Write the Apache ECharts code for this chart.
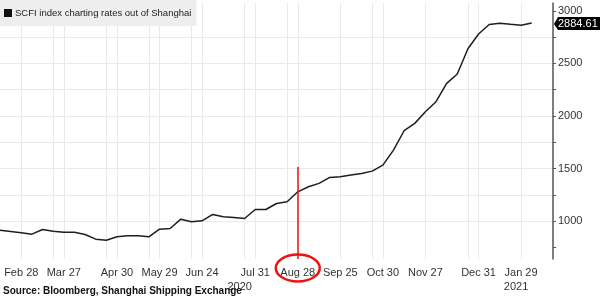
<!DOCTYPE html>
<html>
<head>
<meta charset="utf-8">
<script src="https://cdn.jsdelivr.net/npm/echarts@6/dist/echarts.min.js"></script>
<style>html,body{margin:0;padding:0;background:#fff}#main{width:600px;height:299px}</style>
</head>
<body>
<div id="main"></div>
<script>
// Weekly SCFI publication dates (Feb 2020 - Feb 2021)
const dates = ['Feb 14','Feb 21','Feb 28','Mar 6','Mar 13','Mar 20','Mar 27','Apr 3','Apr 10','Apr 17','Apr 24','Apr 30','May 8','May 15','May 22','May 29','Jun 5','Jun 12','Jun 19','Jun 24','Jul 3','Jul 10','Jul 17','Jul 24','Jul 31','Aug 7','Aug 14','Aug 21','Aug 28','Sep 4','Sep 11','Sep 18','Sep 25','Oct 9','Oct 16','Oct 23','Oct 30','Nov 6','Nov 13','Nov 20','Nov 27','Dec 4','Dec 11','Dec 18','Dec 24','Dec 31','Jan 8','Jan 15','Jan 22','Jan 29','Feb 5'];
const values = [914,902,889,876,921,905,895,895,873,829,819,851,860,860,851,924,930,1019,994,1003,1064,1041,1035,1025,1111,1111,1168,1184,1279,1327,1359,1416,1422,1438,1454,1476,1533,1676,1860,1930,2041,2136,2310,2400,2640,2780,2870,2883,2873,2864,2884.61];
const seriesName = 'SCFI index charting rates out of Shanghai';
const xLabelDates = ['Feb 28','Mar 27','Apr 30','May 29','Jun 24','Jul 31','Aug 28','Sep 25','Oct 30','Nov 27','Dec 31','Jan 29'];
const xGridDates = ['Feb 28','Mar 20','Mar 27','Apr 24','Apr 30','May 22','May 29','Jun 19','Jun 24','Jul 24','Jul 31','Aug 21','Aug 28','Sep 25','Oct 23','Oct 30','Nov 27','Dec 24','Dec 31','Jan 29'];
const yearLabels = {'Jul 31':'2020','Jan 29':'2021'};
const yTickLabels = [1000,1500,2000,2500,3000];
const yMinorTicks = [750,1000,1250,1500,1750,2000,2250,2500,2750,3000];
const markerDate = 'Aug 28';
const markerTop = 1515;
const sourceText = 'Source: Bloomberg, Shanghai Shipping Exchange';

const yMin = 640, yMax = 3075;
const FONT = 'Liberation Sans';
const labelIdx = xLabelDates.map(d => dates.indexOf(d));
const gridIdx = xGridDates.map(d => dates.indexOf(d));

const chart = echarts.init(document.getElementById('main'), null, {renderer:'canvas'});
const option = {
  animation: false,
  textStyle: {fontFamily: FONT},
  legend: {
    left: 0, top: 0, icon: 'rect', itemWidth: 8, itemHeight: 8, itemGap: 0,
    backgroundColor: '#eeeeee', padding: [8, 5, 8, 4],
    textStyle: {fontSize: 9.5, color: '#222', fontFamily: FONT, padding: [0, 0, 0, -2]},
    data: [seriesName]
  },
  grid: {left: 0, right: 47, top: 3, bottom: 40, containLabel: false},
  xAxis: {
    type: 'category', data: dates, boundaryGap: false, max: 52,
    axisLine: {show: false}, axisTick: {show: false},
    axisLabel: {
      interval: (i) => labelIdx.includes(i),
      fontSize: 11, color: '#333', margin: 7, lineHeight: 14, fontFamily: FONT,
      formatter: (v) => {
        if (v === 'Jul 31') return v + '\n{y1|' + yearLabels[v] + '}';
        if (v === 'Jan 29') return v + '\n{y2|' + yearLabels[v] + '}';
        return v;
      },
      rich: {
        y1: {fontSize: 11, color: '#333', fontFamily: FONT, padding: [0, 31, 0, 0], lineHeight: 14},
        y2: {fontSize: 11, color: '#333', fontFamily: FONT, padding: [0, 10, 0, 0], lineHeight: 14}
      }
    },
    splitLine: {show: true, interval: (i) => gridIdx.includes(i), lineStyle: {color: '#e9e9e9', width: 1}}
  },
  yAxis: {
    type: 'value', position: 'right', min: yMin, max: yMax, splitNumber: 5,
    axisLine: {show: true, lineStyle: {color: '#555', width: 1.5}},
    axisTick: {show: true, inside: false, length: 3, customValues: yMinorTicks, lineStyle: {color: '#555'}},
    axisLabel: {customValues: yTickLabels, formatter: (v) => String(v), fontSize: 11, color: '#333', margin: 5, fontFamily: FONT},
    splitLine: {show: true, showMinLine: false, showMaxLine: false, lineStyle: {color: '#e9e9e9', width: 1}}
  },
  series: [{
    name: seriesName, type: 'line', data: values, showSymbol: false, symbol: 'none',
    lineStyle: {color: '#1e1e1e', width: 1.5}, itemStyle: {color: '#111'},
    markLine: {
      silent: true, symbol: 'none', animation: false,
      label: {show: false},
      lineStyle: {color: '#ee1111', width: 1.5, type: 'solid'},
      data: [[{coord: [markerDate, markerTop]}, {coord: [markerDate, yMin]}]]
    }
  }]
};
chart.setOption(option);

const lastVal = values[values.length - 1];
const mx = chart.convertToPixel({xAxisIndex: 0}, markerDate);
const axisX = chart.convertToPixel({xAxisIndex: 0}, 52);
const ly = chart.convertToPixel({yAxisIndex: 0}, lastVal);
chart.setOption({
  graphic: [
    {type: 'ellipse', shape: {cx: mx, cy: 268, rx: 22, ry: 13.5}, style: {fill: 'none', stroke: '#ee1111', lineWidth: 2.5}, z: 100},
    {type: 'polygon', shape: {points: [[axisX + 1, ly + 1], [axisX + 5, ly - 6], [600, ly - 6], [600, ly + 7], [axisX + 5, ly + 7]]}, style: {fill: '#000'}, z: 100},
    {type: 'text', x: axisX + 5, y: ly + 1, style: {text: lastVal.toFixed(2), fill: '#fff', font: '11px "' + FONT + '"', textVerticalAlign: 'middle', textAlign: 'left'}, z: 101},
    {type: 'text', left: 3, top: 286, style: {text: sourceText, fill: '#111', font: 'bold 10px "' + FONT + '"'}, z: 100}
  ]
});
</script>
</body>
</html>
